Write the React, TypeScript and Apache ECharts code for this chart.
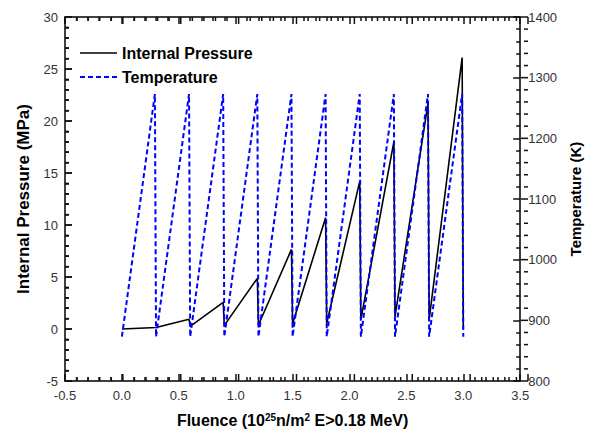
import React, { useEffect, useRef } from "react";
import * as echarts from "echarts";

const pressureX = [0, 0.3, 0.59, 0.6, 0.89, 0.9, 1.19, 1.2, 1.49, 1.5, 1.79, 1.8, 2.09, 2.1, 2.39, 2.4, 2.69, 2.7, 2.99, 3.0];
const pressureY = [0, 0.15, 0.93, 0.25, 2.56, 0.35, 4.87, 0.38, 7.65, 0.5, 10.7, 0.55, 14.2, 0.9, 18.0, 1.2, 21.7, 0.9, 26.1, 0];

const tempX = [0, 0.29, 0.3, 0.59, 0.6, 0.89, 0.9, 1.19, 1.2, 1.49, 1.5, 1.79, 1.8, 2.09, 2.1, 2.39, 2.4, 2.69, 2.7, 2.99, 3.0];
const tempY = [873, 1273, 873, 1273, 873, 1273, 873, 1273, 873, 1273, 873, 1273, 873, 1273, 873, 1273, 873, 1273, 873, 1273, 873];

const seriesNames = ["Internal Pressure", "Temperature"];

// major tick values for each axis
const xTicks = [-0.5, 0, 0.5, 1.0, 1.5, 2.0, 2.5, 3.0, 3.5];
const yLeftTicks = [-5, 0, 5, 10, 15, 20, 25, 30];
const yRightTicks = [800, 900, 1000, 1100, 1200, 1300, 1400];
const MINOR_SPLIT = 5;

const FONT = "'Liberation Sans', Arial, sans-serif";
const W = 591, H = 434;
const G = { left: 65, right: 63, top: 17, bottom: 53 };

const mkLine = () => ({ show: true, onZero: false, lineStyle: { color: "#000", width: 1.5 } });
const mkTick = () => ({ show: true, inside: true, length: 7, lineStyle: { color: "#111", width: 1.5 } });
const mkMinor = () => ({ show: true, splitNumber: MINOR_SPLIT, length: 4, lineStyle: { color: "#111", width: 1.5 } });

function withMinor(major: number[]): [number, number][] {
  const out: [number, number][] = [];
  for (let i = 0; i < major.length; i++) {
    out.push([major[i], 1]);
    if (i < major.length - 1) {
      const step = (major[i + 1] - major[i]) / MINOR_SPLIT;
      for (let k = 1; k < MINOR_SPLIT; k++) out.push([major[i] + step * k, 0]);
    }
  }
  return out;
}

export default function App() {
  const ref = useRef<HTMLDivElement>(null);
  useEffect(() => {
    document.body.style.margin = "0";
    if (!ref.current) return;
    const chart = echarts.init(ref.current, null, { renderer: "svg" });
    const tickLabel = () => ({ color: "#333", fontSize: 13, fontFamily: FONT });
    const legendText = { fontSize: 16, fontWeight: "bold", fontFamily: FONT, fill: "#000" };
    const xMin = xTicks[0], xMax = xTicks[xTicks.length - 1];
    const yMin = yLeftTicks[0], yMax = yLeftTicks[yLeftTicks.length - 1];
    const rMin = yRightTicks[0], rMax = yRightTicks[yRightTicks.length - 1];

    const x0 = G.left, x1 = W - G.right, y0 = H - G.bottom, y1 = G.top;
    const sx = (v: number) => x0 + ((v - xMin) / (xMax - xMin)) * (x1 - x0);
    const sy = (v: number, a: number, b: number) => y0 - ((v - a) / (b - a)) * (y0 - y1);
    const MAJ = 7, MIN = 4;
    const tickStyle = { stroke: "#111", lineWidth: 1.5 };
    const ticks: any[] = [];
    withMinor(xTicks).forEach(([v, m]) => {
      const x = sx(v);
      const len = m ? MAJ : MIN;
      ticks.push({ type: "line", z: 100, shape: { x1: x, y1: y0, x2: x, y2: y0 - len }, style: tickStyle });
      ticks.push({ type: "line", z: 100, shape: { x1: x, y1: y1, x2: x, y2: y1 + len }, style: tickStyle });
    });
    withMinor(yLeftTicks).forEach(([v, m]) => {
      const y = sy(v, yMin, yMax);
      const len = m ? MAJ : MIN;
      ticks.push({ type: "line", z: 100, shape: { x1: x0, y1: y, x2: x0 + len, y2: y }, style: tickStyle });
    });
    withMinor(yRightTicks).forEach(([v, m]) => {
      const y = sy(v, rMin, rMax);
      const len = m ? MAJ : MIN;
      ticks.push({ type: "line", z: 100, shape: { x1: x1, y1: y, x2: x1 - len, y2: y }, style: tickStyle });
    });

    const legendGraphics: any[] = [
      { type: "line", shape: { x1: 80, y1: 53, x2: 117, y2: 53 }, style: { stroke: "#000", lineWidth: 1.6 } },
      { type: "text", x: 122, y: 53, style: { ...legendText, text: seriesNames[0], verticalAlign: "middle" } },
      { type: "line", shape: { x1: 80, y1: 77, x2: 117, y2: 77 }, style: { stroke: "#0000ff", lineWidth: 2, lineDash: [5, 3] } },
      { type: "text", x: 122, y: 77, style: { ...legendText, text: seriesNames[1], verticalAlign: "middle" } },
    ];

    chart.setOption({
      animation: false,
      backgroundColor: "#fff",
      grid: { ...G, containLabel: false },
      graphic: [...legendGraphics, ...ticks],
      xAxis: [
        {
          type: "value",
          min: xMin,
          max: xMax,
          interval: 0.5,
          position: "bottom",
          axisLine: mkLine(),
          axisTick: mkTick(),
          minorTick: mkMinor(),
          splitLine: { show: false },
          axisLabel: { ...tickLabel(), margin: 8, formatter: (v: number) => v.toFixed(1) },
          name: "Fluence (10{sup|25}n/m{sup|2} E>0.18 MeV)",
          nameLocation: "middle",
          nameGap: 31,
          nameTextStyle: {
            fontSize: 16,
            fontWeight: "bold",
            fontFamily: FONT,
            color: "#000",
            rich: {
              sup: { fontSize: 10, fontWeight: "bold", fontFamily: FONT, verticalAlign: "top", color: "#000" },
            },
          },
        },
        {
          type: "value",
          min: xMin,
          max: xMax,
          interval: 0.5,
          position: "top",
          axisLine: mkLine(),
          axisTick: mkTick(),
          minorTick: mkMinor(),
          splitLine: { show: false },
          axisLabel: { show: false },
        },
      ],
      yAxis: [
        {
          type: "value",
          min: yMin,
          max: yMax,
          interval: 5,
          position: "left",
          axisLine: mkLine(),
          axisTick: mkTick(),
          minorTick: mkMinor(),
          splitLine: { show: false },
          axisLabel: { ...tickLabel(), margin: 7 },
          name: "Internal Pressure (MPa)",
          nameLocation: "middle",
          nameGap: 33,
          nameTextStyle: { fontSize: 17, fontWeight: "bold", fontFamily: FONT, color: "#000" },
        },
        {
          type: "value",
          min: rMin,
          max: rMax,
          interval: 100,
          position: "right",
          axisLine: mkLine(),
          axisTick: mkTick(),
          minorTick: mkMinor(),
          splitLine: { show: false },
          axisLabel: { ...tickLabel(), margin: 8, formatter: (v: number) => String(v) },
          name: "Temperature (K)",
          nameLocation: "middle",
          nameGap: 45,
          nameTextStyle: { fontSize: 15, fontWeight: "bold", fontFamily: FONT, color: "#000" },
        },
      ],
      series: [
        {
          name: seriesNames[0],
          type: "line",
          xAxisIndex: 0,
          yAxisIndex: 0,
          symbol: "none",
          showSymbol: false,
          data: pressureX.map((x, i) => [x, pressureY[i]]),
          lineStyle: { color: "#000", width: 1.6 },
          itemStyle: { color: "#000" },
          z: 2,
        },
        {
          name: seriesNames[1],
          type: "line",
          xAxisIndex: 0,
          yAxisIndex: 1,
          symbol: "none",
          showSymbol: false,
          data: tempX.map((x, i) => [x, tempY[i]]),
          lineStyle: { color: "#0000ff", width: 2, type: [5, 3] },
          itemStyle: { color: "#0000ff" },
          z: 3,
        },
      ],
    });

    return () => chart.dispose();
  }, []);
  return <div ref={ref} style={{ width: W, height: H }} />;
}
